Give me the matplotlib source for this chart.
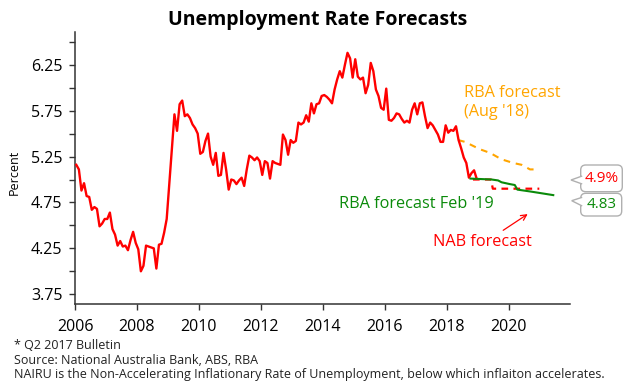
import numpy as np
import matplotlib
matplotlib.use("Agg")
import matplotlib.pyplot as plt
from matplotlib.patches import FancyBboxPatch, Polygon
from matplotlib.transforms import IdentityTransform

plt.rcParams['font.family'] = ['Open Sans', 'DejaVu Sans']

# --------------------------
# Data
# --------------------------
# monthly unemployment rate, Jan 2006 - Dec 2018
unemployment = [
    5.16, 5.11, 4.88, 4.96, 4.82, 4.81, 4.67, 4.70, 4.68, 4.49, 4.52, 4.57,  # 2006
    4.57, 4.64, 4.46, 4.40, 4.28, 4.33, 4.27, 4.28, 4.23, 4.34, 4.43, 4.31,  # 2007
    4.24, 4.00, 4.06, 4.28, 4.27, 4.26, 4.25, 4.03, 4.29, 4.30, 4.42, 4.57,  # 2008
    4.95, 5.33, 5.71, 5.53, 5.82, 5.86, 5.69, 5.71, 5.67, 5.60, 5.56, 5.50,  # 2009
    5.28, 5.30, 5.42, 5.50, 5.25, 5.16, 5.29, 5.04, 5.05, 5.29, 5.11, 4.89,  # 2010
    5.00, 4.99, 4.95, 4.99, 5.02, 4.93, 5.11, 5.26, 5.24, 5.21, 5.24, 5.20,  # 2011
    5.05, 5.20, 5.18, 5.01, 5.20, 5.18, 5.17, 5.16, 5.49, 5.43, 5.27, 5.43,  # 2012
    5.40, 5.42, 5.62, 5.60, 5.62, 5.70, 5.63, 5.83, 5.72, 5.82, 5.83, 5.91,  # 2013
    5.92, 5.90, 5.87, 5.83, 5.98, 6.09, 6.18, 6.11, 6.25, 6.38, 6.32, 6.11,  # 2014
    6.31, 6.12, 6.09, 6.11, 5.94, 6.03, 6.27, 6.18, 5.98, 5.91, 5.78, 5.76,  # 2015
    5.99, 5.65, 5.64, 5.67, 5.72, 5.71, 5.66, 5.62, 5.64, 5.62, 5.76, 5.83,  # 2016
    5.71, 5.83, 5.84, 5.69, 5.56, 5.62, 5.59, 5.54, 5.49, 5.41, 5.41, 5.59,  # 2017
    5.51, 5.54, 5.53, 5.58, 5.43, 5.34, 5.24, 5.18, 5.02, 5.07, 5.10, 5.01,  # 2018
]
start_year = 2006

rba_aug18_years = [2018.36, 2018.58, 2019.06, 2019.39, 2019.76, 2020.14, 2020.41, 2020.68, 2020.95]
rba_aug18_values = [5.43, 5.41, 5.33, 5.29, 5.22, 5.18, 5.16, 5.11, 5.11]

rba_feb19_years = [2018.76, 2019.44, 2019.65, 2019.76, 2020.03, 2020.19, 2020.27, 2020.68, 2021.43]
rba_feb19_values = [5.01, 5.00, 4.99, 4.97, 4.95, 4.94, 4.89, 4.87, 4.83]

nab_years = [2018.84, 2019.42, 2019.48, 2020.98]
nab_values = [5.0, 5.0, 4.9, 4.9]

xticks = [2006, 2008, 2010, 2012, 2014, 2016, 2018, 2020]
yticks = [3.75, 4.25, 4.75, 5.25, 5.75, 6.25]

RED = '#ff0000'
GREEN = '#0a8a0a'
ORANGE = '#ffa500'
W, H = 630, 381

# --------------------------
# Figure
# --------------------------
fig = plt.figure(figsize=(W / 100, H / 100), dpi=100)
ax = fig.add_axes([75 / W, 1 - 304 / H, 495 / W, (304 - 31.7) / H])

months = np.arange(len(unemployment))
years = start_year + (months + 0.5) / 12
ax.plot(years, unemployment, color=RED, lw=1.7, zorder=3)
ax.plot(rba_aug18_years, rba_aug18_values, color=ORANGE, lw=1.5, dashes=(3.2, 2.8))
ax.plot(nab_years, nab_values, color=RED, lw=1.6, dashes=(3.0, 2.4), zorder=2)
ax.plot(rba_feb19_years, rba_feb19_values, color=GREEN, lw=1.5, zorder=4)

ax.set_xlim(2006, 2021.97)
ax.set_ylim(3.644, 6.61)
ax.set_xticks(xticks)
ax.set_yticks(yticks)
ax.set_yticks(np.arange(4.0, 6.6, 0.5), minor=True)
for s in ['top', 'right']:
    ax.spines[s].set_visible(False)
for s in ['left', 'bottom']:
    ax.spines[s].set_color('#333333')
    ax.spines[s].set_linewidth(1.1)
ax.tick_params(axis='both', which='both', length=4, width=1, color='#333333',
               labelsize=11.5, pad=5)
ax.tick_params(axis='x', pad=7)
ax.set_ylabel('Percent', fontsize=9)
ax.yaxis.set_label_coords(-0.109, 0.485)

# annotations
ax.text(2018.55, 5.84, "RBA forecast\n(Aug '18)", color=ORANGE, fontsize=11.7,
        ha='left', va='center', linespacing=1.2)
ax.text(2014.52, 4.728, "RBA forecast Feb '19", color=GREEN, fontsize=11.7,
        ha='left', va='center')
ax.text(2017.55, 4.32, "NAB forecast", color=RED, fontsize=11.7, ha='left', va='center')
ax.annotate('', xy=(2020.68, 4.64), xytext=(2019.74, 4.43),
            arrowprops=dict(arrowstyle='->', color=RED, lw=0.9))

# callout boxes on the right
def callout(x0, y0, x1, y1, tip, base, label, color):
    box = FancyBboxPatch((x0, H - y1), x1 - x0, y1 - y0,
                         boxstyle='round,pad=0,rounding_size=5',
                         fc='white', ec='#b0b0b0', lw=1, transform=IdentityTransform())
    fig.add_artist(box)
    ptr = Polygon([(x0 + 1.5, H - base[0]), (tip[0], H - tip[1]), (x0 + 1.5, H - base[1])],
                  closed=False, fc='white', ec='#b0b0b0', lw=1, transform=IdentityTransform())
    fig.add_artist(ptr)
    fig.text((x0 + x1) / 2 / W, 1 - (y0 + y1) / 2 / H, label, color=color,
             fontsize=11, ha='center', va='center')

callout(580.7, 165, 622.3, 191.7, (571, 180), (176, 184), '4.9%', RED)
callout(580.7, 193.3, 621.7, 216, (571.7, 200.7), (197.3, 206), '4.83', GREEN)

# title and footer
fig.text(318 / W, 1 - 20 / H, 'Unemployment Rate Forecasts', fontsize=14,
         fontweight='bold', ha='center', va='center')
footer = [
    '* Q2 2017 Bulletin',
    'Source: National Australia Bank, ABS, RBA',
    'NAIRU is the Non-Accelerating Inflationary Rate of Unemployment, below which inflaiton accelerates.',
]
for i, line in enumerate(footer):
    fig.text(14 / W, 1 - (345.7 + 14.3 * i) / H, line, fontsize=9, ha='left',
             va='center', color='#222222')

fig.savefig('out.png', dpi=100)
